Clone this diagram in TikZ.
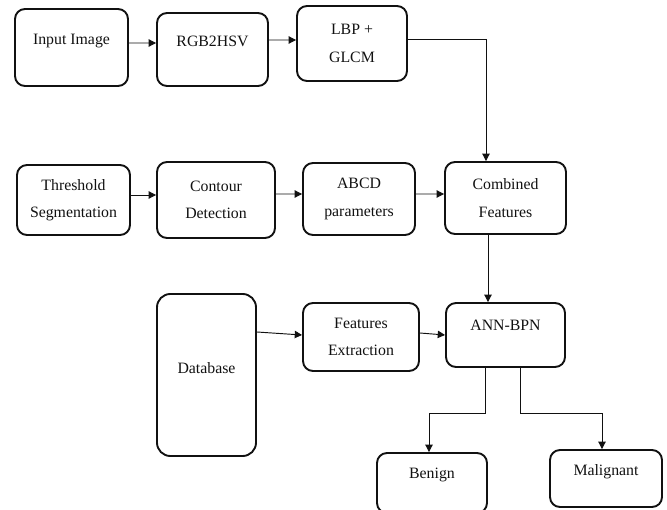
\documentclass[tikz,border=0pt]{standalone}
\usepackage{fontspec}
\setmainfont{Liberation Serif}
\usetikzlibrary{arrows.meta,positioning}
\definecolor{ink}{HTML}{111111}

\begin{document}
\begin{tikzpicture}[x=0.03cm,y=-0.03cm,
  blk/.style={draw=ink,line width=1.6pt,rounded corners=3mm,align=center,
    inner sep=0pt,text=ink,font=\fontsize{13.5}{23.5}\selectfont},
  lift/.style={text height=3mm,text depth=#1},
  flow/.style={-{Triangle[length=2.2mm,width=2.2mm]},line width=0.8pt,ink}
]
  \useasboundingbox (0,0) rectangle (667,510);

  \node[blk,lift=4.5mm,minimum width=3.39cm,minimum height=2.31cm] (inp)
    at (71.5,47.5) {Input Image};
  \node[blk,lift=4.5mm,minimum width=3.33cm,minimum height=2.19cm] (rgb)
    at (212.5,49.5) {RGB2HSV};
  \node[blk,minimum width=3.30cm,minimum height=2.25cm] (lbp)
    at (352,43.5) {LBP +\\GLCM};

  \node[blk,minimum width=3.39cm,minimum height=2.10cm] (thr)
    at (73.5,200) {Threshold\\Segmentation};
  \node[blk,minimum width=3.54cm,minimum height=2.28cm] (cont)
    at (216,200) {Contour\\Detection};
  \node[blk,minimum width=3.36cm,minimum height=2.16cm] (abcd)
    at (359,199) {ABCD\\parameters};
  \node[blk,minimum width=3.63cm,minimum height=2.16cm] (comb)
    at (505.5,198) {Combined\\Features};

  \node[blk,rounded corners=4mm,lift=4.2mm,minimum width=2.97cm,
    minimum height=4.86cm] (db) at (206.5,375) {Database};
  \node[blk,minimum width=3.48cm,minimum height=2.04cm] (fext)
    at (361,337) {Features\\Extraction};
  \node[blk,lift=6mm,minimum width=3.57cm,minimum height=1.92cm] (ann)
    at (505.5,335) {ANN-BPN};

  \node[blk,lift=5.7mm,minimum width=3.30cm,minimum height=1.80cm] (ben)
    at (432,483) {Benign};
  \node[blk,lift=5.1mm,minimum width=3.36cm,minimum height=1.71cm] (mal)
    at (606,478.5) {Malignant};

  \draw[flow] ([yshift=1.35mm]inp.east) -- ([yshift=1.95mm]rgb.west);
  \draw[flow] ([yshift=2.85mm]rgb.east) -- ([yshift=1.05mm]lbp.west);
  \draw[flow] ([yshift=1.35mm]lbp.east) -| ([xshift=-5.85mm]comb.north);

  \draw[flow] ([yshift=1.5mm]thr.east) -- ([yshift=1.5mm]cont.west);
  \draw[flow] ([yshift=1.8mm]cont.east) -- ([yshift=1.5mm]abcd.west);
  \draw[flow] ([yshift=1.5mm]abcd.east) -- ([yshift=1.2mm]comb.west);
  \draw[flow] ([xshift=-5.25mm]comb.south) -- ([xshift=-5.25mm]ann.north);

  \draw[flow] ([yshift=12.9mm]db.east) -- ([yshift=0.6mm]fext.west);
  \draw[flow] ([yshift=1.2mm]fext.east) -- (ann.west);

  \draw[flow] ([xshift=-6.15mm]ann.south) -- ++(0,46)
    -| ([xshift=-0.9mm]ben.north);
  \draw[flow] ([xshift=4.35mm]ann.south) -- ++(0,46)
    -| ([xshift=-1.2mm]mal.north);
\end{tikzpicture}
\end{document}
